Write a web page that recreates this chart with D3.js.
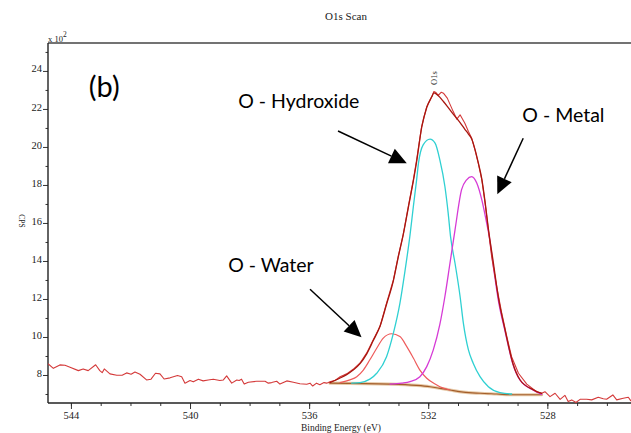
<!DOCTYPE html>
<html>
<head>
<meta charset="utf-8">
<script src="https://cdn.jsdelivr.net/npm/d3@7"></script>
<style>
  html, body { margin: 0; padding: 0; background: #fff; }
  svg { display: block; }
</style>
</head>
<body>
<svg id="chart" width="631" height="433"></svg>
<script>
// O1s high-resolution scan: binding energy (eV) vs counts (x 10^2 CPS)

// measured spectrum
const rawEnergy = [544.76,544.59,544.37,544.20,544.03,543.75,543.59,543.42,543.17,543.03,542.95,542.88,542.69,542.46,542.28,542.13,541.98,541.85,541.68,541.46,541.31,541.16,541.01,540.87,540.67,540.42,540.28,540.17,540.00,539.89,539.72,539.56,539.39,539.22,539.00,538.88,538.77,538.60,538.43,538.35,538.27,538.18,538.04,537.76,537.48,537.37,537.26,537.09,536.98,536.75,536.53,536.31,536.08,535.97,535.88,535.75,535.64,535.50,535.41,535.30,535.12,534.96,534.85,534.74,534.52,534.29,534.07,533.85,533.62,533.40,533.17,533.01,532.84,532.67,532.50,532.39,532.22,532.05,531.88,531.81,531.74,531.66,531.56,531.49,531.36,531.16,531.04,530.93,530.77,530.65,530.54,530.43,530.32,530.20,530.09,529.98,529.87,529.70,529.53,529.36,529.20,528.97,528.69,528.36,528.19,528.08,527.91,527.74,527.57,527.41,527.30,527.18,527.04,526.90,526.68,526.51,526.29,526.12,526.01,525.80,525.67,525.45,525.28,525.20];
const rawCounts = [8.58,8.35,8.53,8.51,8.41,8.23,8.32,8.23,8.54,8.23,8.12,8.32,8.06,7.99,7.99,8.11,8.04,8.16,8.04,7.74,7.78,8.09,8.06,7.79,7.85,7.97,7.91,7.57,7.71,7.64,7.78,7.69,7.74,7.78,7.71,7.74,7.95,7.57,7.74,7.71,7.78,7.52,7.62,7.67,7.67,7.57,7.60,7.67,7.52,7.69,7.62,7.54,7.51,7.57,7.42,7.57,7.49,7.60,7.57,7.64,7.72,7.91,7.98,8.06,8.30,8.63,9.15,9.84,10.55,11.78,13.00,14.23,15.39,16.86,18.27,19.32,21.08,22.12,22.65,22.92,22.86,22.72,22.88,22.83,22.57,21.86,21.46,21.69,21.25,20.81,20.46,19.85,19.15,18.27,17.04,15.64,14.23,12.65,11.25,10.02,8.96,8.09,7.52,7.12,7.04,7.12,6.86,7.04,6.72,6.93,6.60,6.69,6.55,6.72,6.72,6.69,6.83,6.75,6.72,6.95,6.69,6.78,6.83,6.65];

// fitted envelope
const envEnergy = [535.30,534.96,534.74,534.52,534.29,534.07,533.85,533.62,533.40,533.17,533.01,532.84,532.67,532.50,532.39,532.22,532.05,531.88,531.81,531.66,531.49,531.36,531.16,530.93,530.77,530.65,530.54,530.43,530.32,530.20,530.09,529.98,529.81,529.65,529.42,529.16,528.92,528.47,528.19];
const envCounts = [7.60,7.84,8.02,8.26,8.60,9.10,9.80,10.56,11.72,12.97,14.18,15.39,16.80,18.21,19.22,21.03,22.08,22.64,22.85,22.69,22.39,22.14,21.73,21.28,20.93,20.68,20.42,19.87,19.17,18.31,17.10,15.69,13.88,12.13,10.37,8.62,7.75,7.22,7.03];

// background under the fit
const bgEnergy = [535.30,533.28,532.39,531.94,531.61,531.27,530.82,530.26,529.70,529.14,528.19];
const bgCounts = [7.57,7.52,7.45,7.38,7.30,7.21,7.10,7.04,7.00,6.96,6.96];

// component: O - Hydroxide
const hydroxideEnergy = [534.57,534.29,533.96,533.73,533.40,533.17,532.95,532.78,532.61,532.50,532.39,532.33,532.17,531.94,531.77,531.61,531.44,531.33,531.25,531.10,530.93,530.82,530.65,530.49,530.26,529.98,529.59,529.20];
const hydroxideCounts = [7.57,7.60,7.78,8.09,8.96,10.20,11.78,13.48,15.39,16.86,18.27,19.12,20.11,20.41,20.20,19.32,17.92,16.52,15.28,13.88,12.13,10.73,9.32,8.62,7.91,7.38,7.07,7.00];

// component: O - Metal
const metalEnergy = [533.28,532.89,532.61,532.28,532.05,531.83,531.61,531.44,531.27,531.10,530.88,530.71,530.54,530.37,530.20,530.06,529.95,529.81,529.65,529.42,529.16,528.92,528.47,528.19];
const metalCounts = [7.52,7.57,7.65,7.91,8.44,9.32,10.66,12.13,13.88,15.64,17.75,18.27,18.44,18.10,17.21,16.17,15.28,13.68,11.97,10.30,8.59,7.74,7.20,6.98];

// component: O - Water
const waterEnergy = [534.96,534.63,534.40,534.18,533.96,533.73,533.51,533.23,532.95,532.72,532.50,532.28,532.05,531.77,531.61,531.27];
const waterCounts = [7.60,7.74,7.91,8.26,8.80,9.41,9.94,10.17,10.02,9.49,8.89,8.26,7.83,7.52,7.38,7.21];

// axis ticks
const xMajorTicks = [544, 540, 536, 532, 528];
const xMinorTicks = [544,543,542,541,540,539,538,537,536,535,534,533,532,531,530,529,528,527,526];
const yMajorTicks = [8, 10, 12, 14, 16, 18, 20, 22, 24];
const yMinorTicks = [7, 9, 11, 13, 15, 17, 19, 21, 23, 25];

// annotation texts, anchored in data units (eV, counts)
const noteTexts = ["(b)", "O - Hydroxide", "O - Metal", "O - Water"];
const noteEnergy = [543.40, 538.38, 528.84, 538.72];
const noteCounts = [22.65, 22.04, 21.33, 13.44];
const noteSizes = [29, 19.5, 19.5, 19.5];

// annotation arrows: tail -> tip
const arrowFromEnergy = [535.03, 528.81, 535.97];
const arrowFromCounts = [20.84, 20.46, 12.51];
const arrowToEnergy = [532.72, 529.68, 534.24];
const arrowToCounts = [19.14, 17.51, 9.98];

// peak marker
const peakLabel = "O1s";
const peakEnergy = 531.81;
const peakLabelCounts = 23.26;

const svg = d3.select("#chart");
const W = 631, H = 433;
const plotL = 48, plotT = 43, plotB = 403, plotR = 631;

const x = d3.scaleLinear().domain([544.77, 525.19]).range([plotL, plotR]);
const y = d3.scaleLinear().domain([6.526, 25.47]).range([plotB, plotT]);

const serif = "'Liberation Serif', 'Times New Roman', serif";
const sans = "Lato, 'Open Sans', sans-serif";

svg.append("rect").attr("width", W).attr("height", H).attr("fill", "#fff");

svg.append("defs").append("clipPath").attr("id", "plotClip")
  .append("rect").attr("x", plotL).attr("y", plotT)
  .attr("width", plotR - plotL).attr("height", plotB - plotT);

// title
svg.append("text").attr("x", 346).attr("y", 19.5)
  .attr("text-anchor", "middle").attr("font-family", serif)
  .attr("font-size", 11).attr("fill", "#1a1a1a").text("O1s Scan");

// scale factor label
const sf = svg.append("text").attr("x", plotL).attr("y", 41.5)
  .attr("font-family", serif).attr("font-size", 8.5).attr("fill", "#222");
sf.append("tspan").text("x 10");
sf.append("tspan").attr("dy", -5).attr("font-size", 7.5).text("2");

// axes
const xAxisMajor = d3.axisBottom(x).tickValues(xMajorTicks).tickSize(6).tickPadding(3)
  .tickFormat(d3.format("d"));
const xAxisMinor = d3.axisBottom(x).tickValues(xMinorTicks).tickSize(3).tickFormat("");
const yAxisMajor = d3.axisLeft(y).tickValues(yMajorTicks).tickSize(5).tickPadding(1)
  .tickFormat(d3.format("d"));
const yAxisMinor = d3.axisLeft(y).tickValues(yMinorTicks).tickSize(2.5).tickFormat("");

function styleAxis(g) {
  g.select(".domain").remove();
  g.selectAll("line").attr("stroke", "#333").attr("stroke-width", 1);
  g.selectAll("text").attr("font-family", serif).attr("font-size", 10.5).attr("fill", "#222");
}

svg.append("g").attr("transform", `translate(0,${plotB})`).call(xAxisMinor).call(styleAxis);
svg.append("g").attr("transform", `translate(0,${plotB})`).call(xAxisMajor).call(styleAxis);
svg.append("g").attr("transform", `translate(${plotL},0)`).call(yAxisMinor).call(styleAxis);
const yg = svg.append("g").attr("transform", `translate(${plotL},0)`).call(yAxisMajor).call(styleAxis);
yg.selectAll("text").attr("dy", "0.1em");

// frame lines
svg.append("line").attr("x1", plotL).attr("x2", plotR).attr("y1", plotT).attr("y2", plotT)
  .attr("stroke", "#444").attr("stroke-width", 1.4);
svg.append("line").attr("x1", plotL).attr("x2", plotL).attr("y1", plotT).attr("y2", plotB)
  .attr("stroke", "#222").attr("stroke-width", 1.4);
svg.append("line").attr("x1", plotL).attr("x2", plotR).attr("y1", plotB).attr("y2", plotB)
  .attr("stroke", "#222").attr("stroke-width", 1.4);

// axis titles
svg.append("text").attr("x", 341).attr("y", 431)
  .attr("text-anchor", "middle").attr("font-family", serif)
  .attr("font-size", 9.5).attr("fill", "#222").text("Binding Energy (eV)");
svg.append("text").attr("transform", "translate(19,221) rotate(90)")
  .attr("text-anchor", "middle").attr("font-family", serif)
  .attr("font-size", 7.5).attr("fill", "#222").text("CPS");

// data curves
const plot = svg.append("g").attr("clip-path", "url(#plotClip)");
const zip = (e, c) => e.map((v, i) => [v, c[i]]);
const smooth = d3.line().x(d => x(d[0])).y(d => y(d[1])).curve(d3.curveMonotoneX);
const jagged = d3.line().x(d => x(d[0])).y(d => y(d[1]));

function curve(data, gen, color, width) {
  plot.append("path").datum(data).attr("d", gen)
    .attr("fill", "none").attr("stroke", color).attr("stroke-width", width)
    .attr("stroke-linejoin", "round").attr("stroke-linecap", "round");
}

const bgData = zip(bgEnergy, bgCounts);
curve(bgData, smooth, "#e6c9a8", 3.2);
curve(bgData, smooth, "#a45e2a", 1.2);
curve(zip(waterEnergy, waterCounts), smooth, "#ee5b5b", 1.2);
curve(zip(hydroxideEnergy, hydroxideCounts), smooth, "#2fd0d2", 1.3);
curve(zip(metalEnergy, metalCounts), smooth, "#d63ad6", 1.3);
curve(zip(rawEnergy, rawCounts), jagged, "#d43a3a", 1.1);
curve(zip(envEnergy, envCounts), smooth, "#a8160f", 1.3);

// peak marker label
svg.append("text")
  .attr("transform", `translate(${x(peakEnergy) + 3},${y(peakLabelCounts)}) rotate(-90)`)
  .attr("font-family", serif).attr("font-size", 8.5).attr("fill", "#333").text(peakLabel);

// annotations
noteTexts.forEach((t, i) => {
  svg.append("text").attr("x", x(noteEnergy[i])).attr("y", y(noteCounts[i]))
    .attr("font-family", sans).attr("font-size", noteSizes[i]).attr("fill", "#000").text(t);
});

arrowFromEnergy.forEach((e, i) => {
  const x0 = x(e), y0 = y(arrowFromCounts[i]);
  const x1 = x(arrowToEnergy[i]), y1 = y(arrowToCounts[i]);
  const len = Math.hypot(x1 - x0, y1 - y0);
  const ux = (x1 - x0) / len, uy = (y1 - y0) / len;
  const headL = 17, headW = 8;
  const bx = x1 - ux * headL, by = y1 - uy * headL;
  svg.append("line").attr("x1", x0).attr("y1", y0).attr("x2", bx).attr("y2", by)
    .attr("stroke", "#000").attr("stroke-width", 1.5);
  svg.append("polygon")
    .attr("points", [[x1, y1], [bx - uy * headW, by + ux * headW], [bx + uy * headW, by - ux * headW]]
      .map(p => p.join(",")).join(" "))
    .attr("fill", "#000");
});
</script>
</body>
</html>
